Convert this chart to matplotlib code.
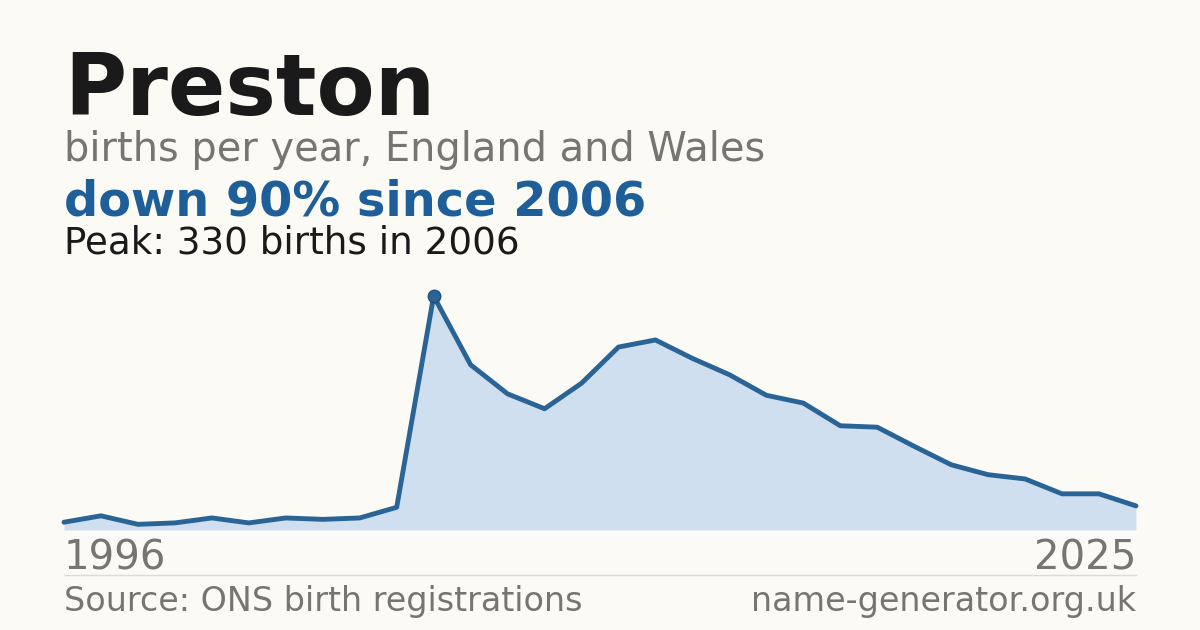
import matplotlib
matplotlib.use("Agg")
import matplotlib.pyplot as plt

years = list(range(1996, 2026))
births = [11, 20, 8, 10, 17, 10, 17, 15, 17, 32, 330, 233, 192, 171, 207, 258, 268,
          242, 219, 190, 179, 147, 145, 118, 92, 78, 72, 51, 51, 34]
title = "Preston"
subtitle = "births per year, England and Wales"
headline = "down 90% since 2006"
peak_text = "Peak: 330 births in 2006"
source = "Source: ONS birth registrations"
site = "name-generator.org.uk"

W, H = 1200, 630
bg = "#fbfaf5"
blue = "#2a6496"
fig = plt.figure(figsize=(12, 6.3), dpi=100, facecolor=bg)
ax = fig.add_axes([64/W, 100/H, 1072/W, 234/H])
ax.set_facecolor(bg)
ax.fill_between(years, births, 0, color="#cfdff0", lw=0)
ax.plot(years, births, color=blue, lw=3.5, solid_capstyle="round", clip_on=False)
pk = births.index(max(births))
ax.plot(years[pk], births[pk], "o", ms=9, color=blue, mec="#1d4f7a", clip_on=False)
ax.set_xlim(years[0], years[-1])
ax.set_ylim(0, max(births))
ax.axis("off")

fig.text(64/W, 1-115/H, title, fontsize=61, fontweight="bold", color="#1a1a1a", va="baseline")
fig.text(64/W, 1-161/H, subtitle, fontsize=28.7, color="#777570", va="baseline")
fig.text(64/W, 1-215/H, headline, fontsize=34.5, fontweight="bold", color="#1f5f99", va="baseline")
fig.text(64/W, 1-254/H, peak_text, fontsize=26.8, color="#1a1a1a", va="baseline")
fig.text(64/W, 1-570/H, str(years[0]), fontsize=28.9, color="#777570", va="baseline")
fig.text(1136/W, 1-570/H, str(years[-1]), fontsize=28.9, color="#777570", va="baseline", ha="right")
fig.add_artist(plt.Line2D([64/W, 1136/W], [1-575/H]*2, color="#dddbd4", lw=1))
fig.text(64/W, 1-611/H, source, fontsize=24, color="#777570", va="baseline")
fig.text(1136/W, 1-611/H, site, fontsize=24, color="#777570", va="baseline", ha="right")
fig.savefig("out.png", facecolor=bg)
